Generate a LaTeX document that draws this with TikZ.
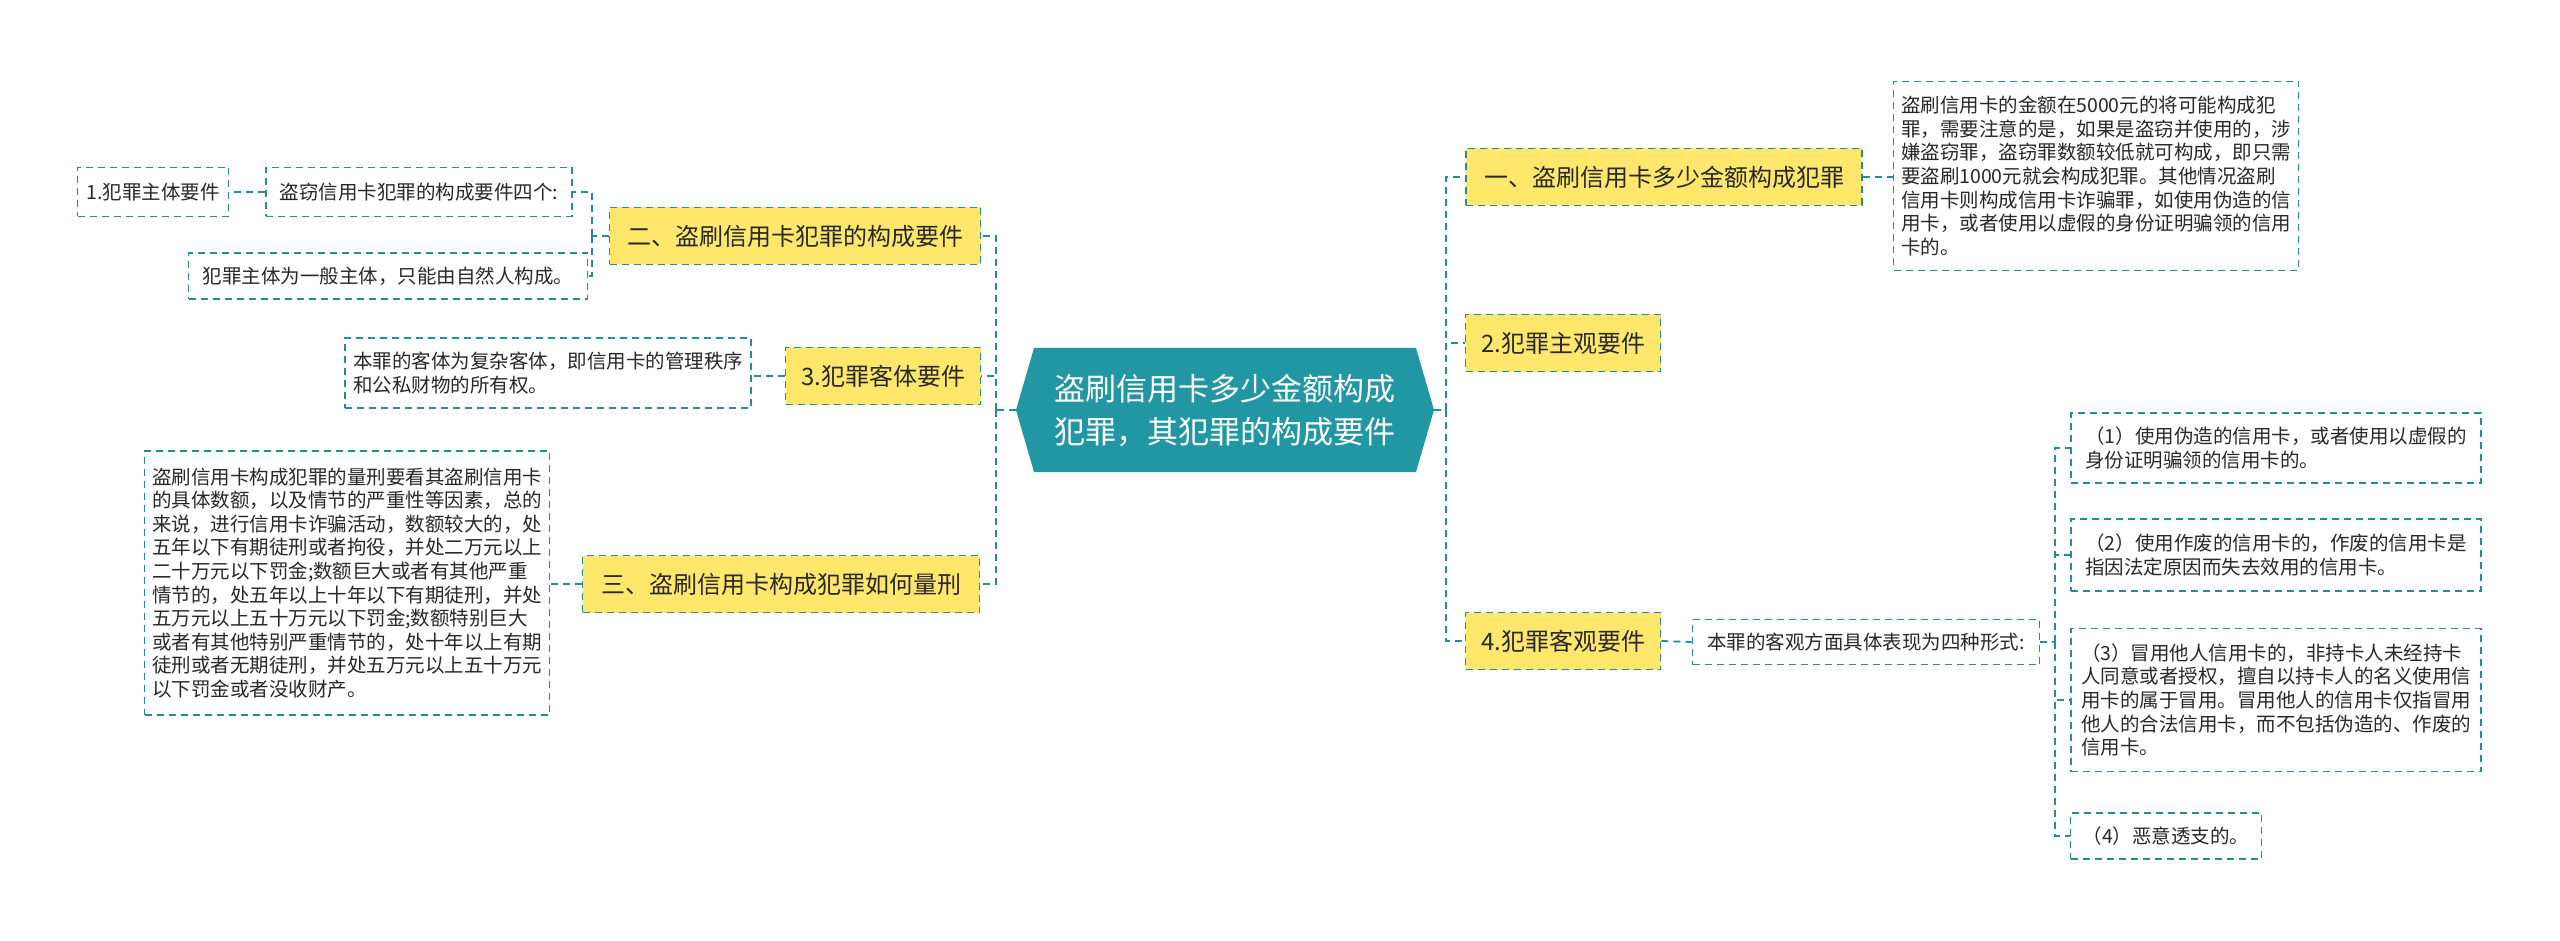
\documentclass[tikz,border=0pt]{standalone}
\usepackage{fontspec}
\setmainfont{Noto Sans CJK SC}
\begin{document}
\begin{tikzpicture}[x=1pt,y=-1pt,
  lk/.style={draw=teal!70!black!90, color={rgb,255:red,36;green,139;blue,152}, line width=1.8pt, dash pattern=on 7pt off 5pt},
  lvl/.style={draw={rgb,255:red,36;green,139;blue,152}, fill={rgb,255:red,255;green,231;blue,107}, line width=1.8pt, dash pattern=on 7pt off 5pt, font=\fontsize{24}{30}\selectfont, text={rgb,255:red,40;green,40;blue,40}, inner sep=0pt, align=center},
  leaf/.style={draw={rgb,255:red,36;green,139;blue,152}, fill=white, line width=1.8pt, dash pattern=on 7pt off 5pt, font=\fontsize{19.5}{23.6}\selectfont, text={rgb,255:red,40;green,40;blue,40}, inner sep=0pt, align=left}]
\useasboundingbox (0,0) rectangle (2560,941);
\definecolor{tl}{RGB}{36,139,152}
\tikzset{lk/.style={draw=tl, line width=1.8pt, dash pattern=on 7pt off 5pt}}
% center
\fill[tl!90!cyan] (1016,410) -- (1034,348) -- (1416,348) -- (1434,410) -- (1416,472) -- (1034,472) -- cycle;
\node[text=white, font=\fontsize{31}{43}\selectfont, align=center, minimum width=418pt, minimum height=124pt, inner sep=0pt] (c) at (1225,410) {盗刷信用卡多少金额构成\\犯罪，其犯罪的构成要件};
% right level
\node[lvl, minimum width=396pt, minimum height=57pt] (r1) at (1664,177) {一、盗刷信用卡多少金额构成犯罪};
\node[lvl, minimum width=195pt, minimum height=57pt] (r2) at (1563,343) {2.犯罪主观要件};
\node[lvl, minimum width=195pt, minimum height=57pt] (r3) at (1563,641) {4.犯罪客观要件};
% left level
\node[lvl, minimum width=371pt, minimum height=57pt] (l1) at (795,236) {二、盗刷信用卡犯罪的构成要件};
\node[lvl, minimum width=195pt, minimum height=57pt] (l2) at (883,376) {3.犯罪客体要件};
\node[lvl, minimum width=397pt, minimum height=57pt] (l3) at (781,584) {三、盗刷信用卡构成犯罪如何量刑};
% leaves
\node[leaf, minimum width=405pt, minimum height=189pt] (r1a) at (2096,176) {盗刷信用卡的金额在5000元的将可能构成犯\\罪，需要注意的是，如果是盗窃并使用的，涉\\嫌盗窃罪，盗窃罪数额较低就可构成，即只需\\要盗刷1000元就会构成犯罪。其他情况盗刷\\信用卡则构成信用卡诈骗罪，如使用伪造的信\\用卡，或者使用以虚假的身份证明骗领的信用\\卡的。};
\node[leaf, minimum width=347pt, minimum height=45pt, align=center] (r3a) at (1866,642) {本罪的客观方面具体表现为四种形式:};
\node[leaf, minimum width=410pt, minimum height=70pt] (i1) at (2276,448) {（1）使用伪造的信用卡，或者使用以虚假的\\身份证明骗领的信用卡的。};
\node[leaf, minimum width=410pt, minimum height=72pt] (i2) at (2276,555) {（2）使用作废的信用卡的，作废的信用卡是\\指因法定原因而失去效用的信用卡。};
\node[leaf, minimum width=410pt, minimum height=143pt] (i3) at (2276,700) {（3）冒用他人信用卡的，非持卡人未经持卡\\人同意或者授权，擅自以持卡人的名义使用信\\用卡的属于冒用。冒用他人的信用卡仅指冒用\\他人的合法信用卡，而不包括伪造的、作废的\\信用卡。};
\node[leaf, minimum width=191pt, minimum height=46pt] (i4) at (2166,836) {（4）恶意透支的。};
\node[leaf, minimum width=306pt, minimum height=49pt, align=center] (l1a) at (419,192) {盗窃信用卡犯罪的构成要件四个:};
\node[leaf, minimum width=151pt, minimum height=49pt, align=center] (l1aa) at (153,192) {1.犯罪主体要件};
\node[leaf, minimum width=399pt, minimum height=46pt, align=center] (l1b) at (388,276) {犯罪主体为一般主体，只能由自然人构成。};
\node[leaf, minimum width=406pt, minimum height=70pt] (l2a) at (548,373) {本罪的客体为复杂客体，即信用卡的管理秩序\\和公私财物的所有权。};
\node[leaf, minimum width=405pt, minimum height=264pt] (l3a) at (347,583) {盗刷信用卡构成犯罪的量刑要看其盗刷信用卡\\的具体数额，以及情节的严重性等因素，总的\\来说，进行信用卡诈骗活动，数额较大的，处\\五年以下有期徒刑或者拘役，并处二万元以上\\二十万元以下罚金;数额巨大或者有其他严重\\情节的，处五年以上十年以下有期徒刑，并处\\五万元以上五十万元以下罚金;数额特别巨大\\或者有其他特别严重情节的，处十年以上有期\\徒刑或者无期徒刑，并处五万元以上五十万元\\以下罚金或者没收财产。};
% connectors
\coordinate (sr) at (1446,410);
\coordinate (sl) at (996,410);
\draw[lk] (c.east) -- (sr);
\draw[lk] (c.west) -- (sl);
\foreach \n in {r1,r2,r3} \draw[lk] (sr) |- (\n.west);
\foreach \n in {l1,l2,l3} \draw[lk] (sl) |- (\n.east);
\draw[lk] (r1.east) -- (r1a.west |- r1.east);
\draw[lk] (r3.east) -- (r3a.west);
\coordinate (si) at (2055,642);
\draw[lk] (r3a.east) -- (si);
\foreach \n in {i1,i2,i3,i4} \draw[lk] (si) |- (\n.west);
\coordinate (s1) at (592,236);
\draw[lk] (l1.west) -- (s1);
\draw[lk] (s1) |- (l1a.east);
\draw[lk] (s1) |- (l1b.east);
\draw[lk] (l1a.west) -- (l1aa.east);
\draw[lk] (l2.west) -- (l2a.east |- l2.west);
\draw[lk] (l3.west) -- (l3a.east |- l3.west);
\end{tikzpicture}
\end{document}
